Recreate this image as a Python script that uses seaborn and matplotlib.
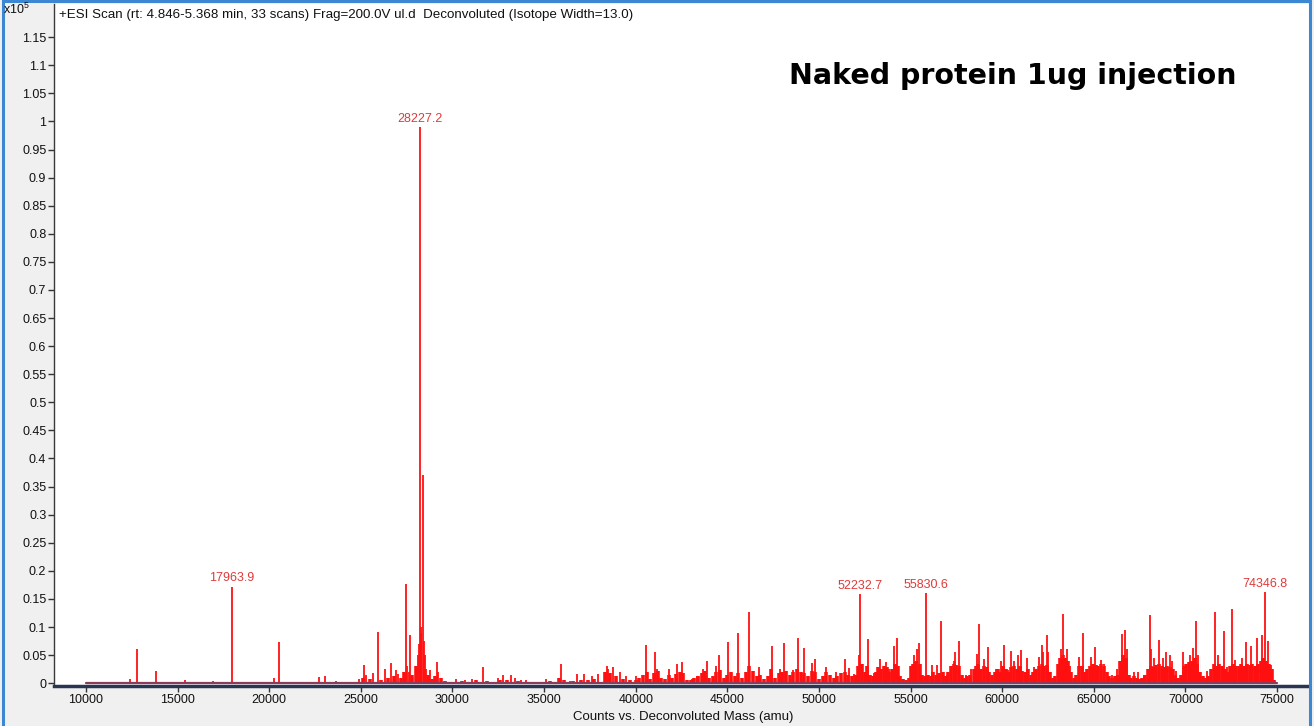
import numpy as np
import pandas as pd
import matplotlib
matplotlib.use("Agg")
import matplotlib.pyplot as plt
from matplotlib.ticker import FuncFormatter
from matplotlib.patches import Rectangle
import seaborn as sns

# deconvoluted peaks (mass in amu, counts in 1e5)
peak_mass = [
    12417, 12800, 13835, 15380, 16925, 17560, 17963.9, 20250, 20524, 21650,
    22690, 23050, 23630, 24920, 25160, 25300, 25667, 25940, 26305, 26670,
    26905, 27030, 27450, 27540, 27620, 27700, 28100, 28150, 28227.2, 28260,
    28300, 28380, 28420, 28480, 28550, 28800, 29170, 29230, 30215, 30670,
    31050, 31665, 32480, 32755, 33210, 33430, 33760, 34030, 35120, 35940,
    36390, 36790, 37170, 37590, 37920, 38430, 38500, 38760, 39120, 39485,
    40030, 40537, 41065, 41150, 41810, 42245, 42535, 43100, 43350, 43700,
    43880, 44390, 44535, 45060, 45570, 46210, 46715, 47440, 47880, 48075,
    48570, 48840, 49170, 49625, 49805, 50390, 50935, 51440, 51660, 51930,
    52200, 52232.7, 52660, 53000, 53350, 53530, 53660, 53800, 54110, 54240,
    55020, 55200, 55350, 55440, 55830.6, 56170, 56420, 56660, 57000, 57390,
    57445, 57620, 58000, 58300, 58600, 58750, 59020, 59200, 59660, 59930,
    60080, 60300, 60495, 60660, 60890, 61020, 61350, 61710, 61985, 62170,
    62250, 62420, 62520, 63020, 63200, 63345, 63565, 63710, 64170, 64400,
    64860, 65090, 65420, 65550, 66010, 66290, 66560, 66710, 66800, 67200,
    67390, 67760, 68050, 68120, 68310, 68550, 68770, 68950, 69140, 69280,
    69500, 69870, 70240, 70420, 70570, 70700, 71160, 71640, 71800, 72080,
    72260, 72520, 72720, 73090, 73330, 73590, 73920, 74190, 74346.8, 74520,
    74650,
]
peak_counts = [
    0.007, 0.060, 0.021, 0.005, 0.004, 0.003, 0.172, 0.009, 0.073, 0.003,
    0.011, 0.012, 0.004, 0.007, 0.032, 0.015, 0.018, 0.091, 0.025, 0.036,
    0.023, 0.016, 0.177, 0.030, 0.020, 0.086, 0.050, 0.070, 0.990, 0.100,
    0.090, 0.370, 0.075, 0.050, 0.025, 0.023, 0.038, 0.020, 0.008, 0.006,
    0.008, 0.028, 0.010, 0.014, 0.015, 0.009, 0.006, 0.006, 0.008, 0.035,
    0.004, 0.017, 0.017, 0.012, 0.016, 0.030, 0.025, 0.028, 0.020, 0.012,
    0.012, 0.068, 0.056, 0.025, 0.026, 0.034, 0.037, 0.008, 0.012, 0.026,
    0.040, 0.030, 0.050, 0.074, 0.089, 0.127, 0.028, 0.066, 0.025, 0.071,
    0.024, 0.081, 0.062, 0.036, 0.043, 0.029, 0.020, 0.043, 0.027, 0.017,
    0.050, 0.158, 0.078, 0.018, 0.043, 0.030, 0.038, 0.025, 0.066, 0.080,
    0.024, 0.050, 0.060, 0.071, 0.160, 0.033, 0.033, 0.110, 0.015, 0.040,
    0.056, 0.075, 0.015, 0.025, 0.052, 0.105, 0.043, 0.064, 0.026, 0.040,
    0.068, 0.024, 0.058, 0.040, 0.050, 0.059, 0.045, 0.028, 0.046, 0.068,
    0.055, 0.086, 0.055, 0.030, 0.060, 0.124, 0.060, 0.030, 0.046, 0.090,
    0.047, 0.064, 0.042, 0.035, 0.015, 0.025, 0.087, 0.095, 0.060, 0.020,
    0.020, 0.015, 0.122, 0.060, 0.045, 0.076, 0.045, 0.055, 0.050, 0.040,
    0.022, 0.055, 0.050, 0.062, 0.110, 0.050, 0.022, 0.126, 0.050, 0.093,
    0.028, 0.132, 0.042, 0.045, 0.073, 0.066, 0.080, 0.085, 0.163, 0.075,
    0.033,
]

# low-level unresolved signal under the peaks
floor_mass = [
    25100, 25500, 26100, 26500, 26800, 27200, 27350, 27800, 28000, 28650,
    28900, 29050, 29350, 29600, 30500, 31300, 31900, 32600, 33000, 33600,
    34500, 35300, 35800, 36100, 36600, 37000, 37400, 37750, 38300, 38600,
    38900, 39300, 39700,
    40000, 40200, 40400, 40600, 40800, 41000, 41200, 41400, 41600, 41800,
    42000, 42200, 42400, 42600, 42800, 43000, 43200, 43400, 43600, 43800,
    44000, 44200, 44400, 44600, 44800, 45000, 45200, 45400, 45600, 45800,
    46000, 46200, 46400, 46600, 46800, 47000, 47200, 47400, 47600, 47800,
    48000, 48200, 48400, 48600, 48800, 49000, 49200, 49400, 49600, 49800,
    50000, 50200, 50400, 50600, 50800, 51000, 51200, 51400, 51600, 51800,
    52000, 52150, 52350, 52500, 52650, 52800, 52950, 53100, 53250, 53400,
    53550, 53700, 53850, 54000, 54150, 54300, 54450, 54600, 54750, 54900,
    55050, 55150, 55300, 55500, 55650, 55800, 55950, 56100, 56250, 56400,
    56550, 56750, 56900, 57050, 57200, 57350, 57500, 57650, 57800, 57950,
    58100, 58250, 58450, 58550, 58700, 58850, 59000, 59150, 59300, 59450,
    59600, 59750, 59900, 60050, 60200, 60350, 60500, 60650, 60800, 60950,
    61100, 61250, 61400, 61550, 61700, 61850, 62000, 62150, 62300, 62450,
    62600, 62750, 62900, 63050, 63150, 63300, 63450, 63600, 63750, 63900,
    64050, 64200, 64350, 64500, 64650, 64800, 64950, 65100, 65250, 65400,
    65550, 65700, 65850, 66000, 66150, 66300, 66450, 66600, 66750, 66900,
    67050, 67200, 67350, 67500, 67650, 67800, 67950, 68100, 68250, 68400,
    68550, 68700, 68850, 69000, 69150, 69300, 69450, 69600, 69750, 69900,
    70050, 70200, 70350, 70500, 70650, 70800, 70950, 71100, 71250, 71400,
    71550, 71700, 71850, 72000, 72150, 72300, 72450, 72600, 72750, 72900,
    73050, 73200, 73350, 73500, 73650, 73800, 73950, 74100, 74250, 74400,
    74550, 74700, 74850,
]
floor_counts = [
    0.010, 0.008, 0.006, 0.010, 0.012, 0.010, 0.020, 0.015, 0.030, 0.015,
    0.008, 0.012, 0.010, 0.004, 0.004, 0.005, 0.004, 0.006, 0.005, 0.004,
    0.003, 0.004, 0.010, 0.006, 0.004, 0.006, 0.005, 0.008, 0.020, 0.018,
    0.012, 0.008, 0.005,
    0.006, 0.010, 0.015, 0.020, 0.008, 0.018, 0.022, 0.010, 0.007, 0.014,
    0.009, 0.016, 0.020, 0.018, 0.006, 0.005, 0.009, 0.012, 0.018, 0.022,
    0.010, 0.012, 0.020, 0.024, 0.010, 0.015, 0.020, 0.012, 0.018, 0.010,
    0.020, 0.030, 0.022, 0.012, 0.015, 0.008, 0.012, 0.025, 0.010, 0.018,
    0.020, 0.022, 0.015, 0.020, 0.025, 0.020, 0.018, 0.012, 0.022, 0.020,
    0.008, 0.012, 0.020, 0.015, 0.010, 0.012, 0.018, 0.020, 0.015, 0.012,
    0.015, 0.030, 0.035, 0.020, 0.030, 0.015, 0.012, 0.020, 0.028, 0.025,
    0.030, 0.028, 0.020, 0.025, 0.035, 0.030, 0.012, 0.008, 0.006, 0.010,
    0.030, 0.035, 0.040, 0.035, 0.015, 0.012, 0.015, 0.012, 0.020, 0.015,
    0.018, 0.020, 0.012, 0.020, 0.030, 0.035, 0.032, 0.030, 0.015, 0.010,
    0.012, 0.015, 0.025, 0.030, 0.035, 0.025, 0.030, 0.028, 0.020, 0.015,
    0.020, 0.025, 0.020, 0.030, 0.025, 0.020, 0.028, 0.030, 0.025, 0.030,
    0.022, 0.020, 0.025, 0.015, 0.020, 0.025, 0.030, 0.035, 0.030, 0.032,
    0.020, 0.010, 0.012, 0.035, 0.045, 0.050, 0.045, 0.040, 0.020, 0.010,
    0.015, 0.030, 0.030, 0.020, 0.025, 0.030, 0.035, 0.032, 0.030, 0.035,
    0.030, 0.020, 0.012, 0.010, 0.012, 0.015, 0.040, 0.050, 0.045, 0.015,
    0.010, 0.012, 0.010, 0.008, 0.010, 0.015, 0.025, 0.030, 0.028, 0.032,
    0.035, 0.030, 0.028, 0.030, 0.028, 0.025, 0.015, 0.010, 0.015, 0.030,
    0.035, 0.038, 0.040, 0.045, 0.035, 0.020, 0.012, 0.010, 0.012, 0.025,
    0.035, 0.030, 0.035, 0.030, 0.025, 0.020, 0.030, 0.035, 0.030, 0.030,
    0.035, 0.030, 0.035, 0.032, 0.035, 0.030, 0.035, 0.040, 0.045, 0.040,
    0.035, 0.025, 0.006,
]

labelled_masses = [17963.9, 28227.2, 52232.7, 55830.6, 74346.8]
scan_range = [10000, 75000]
x_ticks = list(range(10000, 75001, 5000))
y_ticks = [round(0.05 * i, 2) for i in range(24)]

header = ("+ESI Scan (rt: 4.846-5.368 min, 33 scans) Frag=200.0V ul.d  "
          "Deconvoluted (Isotope Width=13.0)")
title = "Naked protein 1ug injection"
xlabel = "Counts vs. Deconvoluted Mass (amu)"

peaks = pd.DataFrame({"mass": peak_mass, "counts": peak_counts})
floor = pd.DataFrame({"mass": floor_mass, "counts": floor_counts})

sns.set_theme(style="white")
plt.rcParams["font.family"] = ["Liberation Sans", "DejaVu Sans"]
plt.rcParams["mathtext.default"] = "regular"

fig = plt.figure(figsize=(13.14, 7.26), dpi=100, facecolor="#f0f0f0")
ax = fig.add_axes([54 / 1314, 1 - 686 / 726, 1255 / 1314, 682 / 726])
ax.set_facecolor("white")

red = "#ff1010"
ax.vlines(floor["mass"], 0, floor["counts"], color=red, lw=2.6)
ax.vlines(peaks["mass"], 0, peaks["counts"], color=red, lw=1.3)
# baseline of the deconvolution window
sns.lineplot(x=scan_range, y=[0, 0], ax=ax, color="#8a3c5c", lw=1.6)

for m in labelled_masses:
    h = peaks.loc[peaks["mass"] == m, "counts"].iloc[0]
    ax.annotate(f"{m:.1f}", (m, h), xytext=(0, 1.5), textcoords="offset points",
                ha="center", va="bottom", fontsize=9, color="#e03a3a",
                bbox=dict(boxstyle="square,pad=0.1", fc="white", ec="none"))

ax.set_xlim(8255, 76745)
ax.set_ylim(-0.005, 1.209)
ax.set_xticks(x_ticks)
ax.set_yticks(y_ticks)
ax.yaxis.set_major_formatter(FuncFormatter(lambda v, p: f"{v:g}"))
ax.tick_params(axis="both", direction="out", length=4, width=1, color="#333333",
               labelsize=9, labelcolor="#111111", pad=1.5, left=True, bottom=True)

for s in ["top", "right"]:
    ax.spines[s].set_visible(False)
ax.spines["left"].set_color("#3a3a3a")
ax.spines["left"].set_linewidth(1)
ax.spines["bottom"].set_color("#2a3552")
ax.spines["bottom"].set_linewidth(2.5)

ax.text(0.004, 0.993, header, transform=ax.transAxes, ha="left", va="top",
        fontsize=9.6, color="#111111")
ax.text(0.764, 0.895, title, transform=ax.transAxes, ha="center", va="center",
        fontsize=20.5, fontweight="bold", family="DejaVu Sans", color="black")
fig.text(3 / 1314, 1 - 9 / 726, "x10$^{5}$", ha="left", va="center",
         fontsize=9, color="#111111")
fig.text(683 / 1314, 1 - 717 / 726, xlabel, ha="center", va="center",
         fontsize=9.5, color="#111111")

fig.patches.append(Rectangle((0.002, -0.01), 0.995, 1.008, transform=fig.transFigure,
                             fill=False, ec="#3b87d4", lw=2.2))

fig.savefig("out.png", dpi=100, facecolor=fig.get_facecolor())
